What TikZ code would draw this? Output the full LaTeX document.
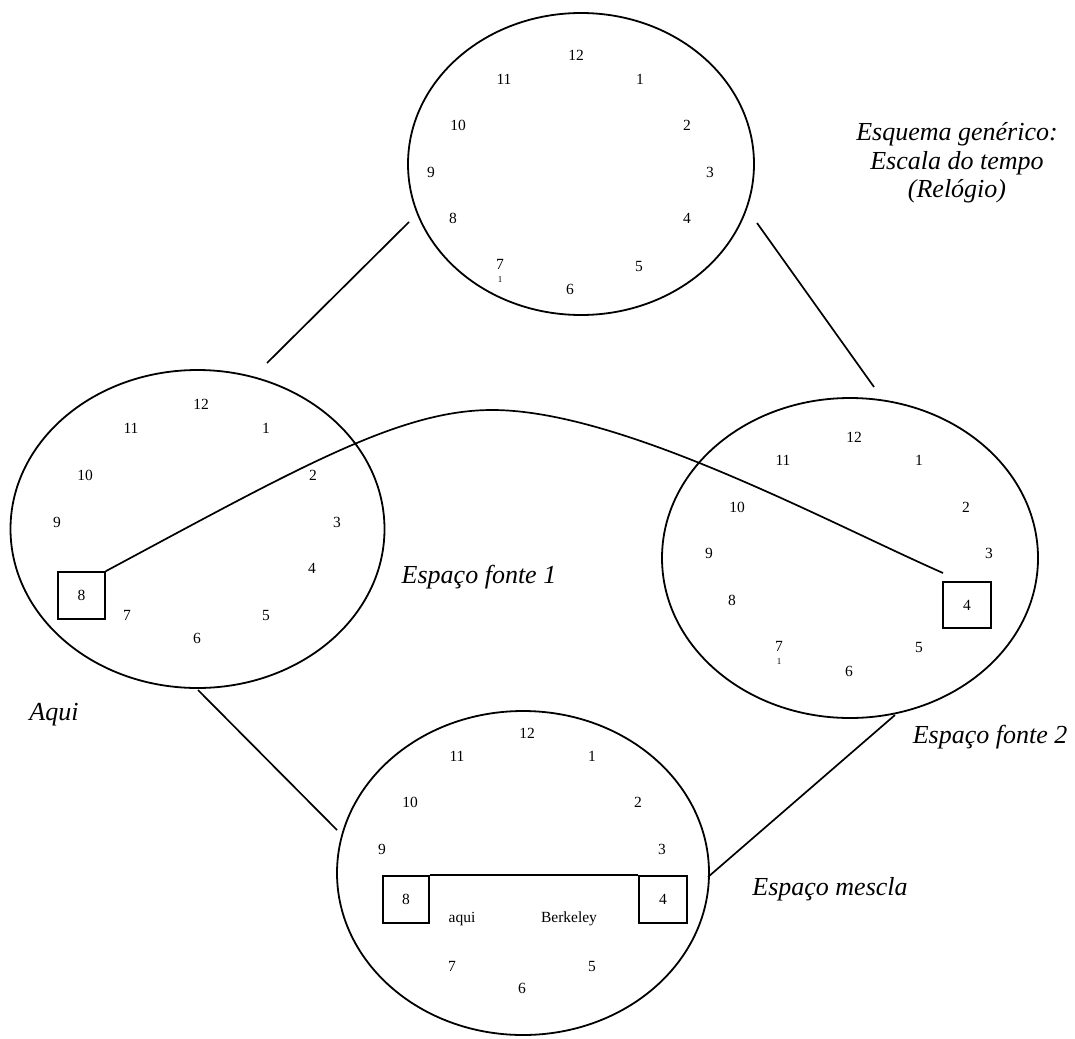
\documentclass[tikz,border=0pt]{standalone}
\usepackage{fontspec}
\setmainfont{Liberation Serif}
\usetikzlibrary{shapes.geometric}
\begin{document}
\begin{tikzpicture}[x=1pt,y=-1pt,
  space/.style={draw, ellipse, line width=1.8pt, inner sep=0pt},
  num/.style={inner sep=0pt, font=\fontsize{15.5}{18}\selectfont},
  tick/.style={inner sep=0pt, font=\fontsize{9}{10}\selectfont},
  hbox/.style={draw, line width=1.7pt, inner sep=0pt, font=\fontsize{15.5}{18}\selectfont},
  link/.style={line width=1.7pt},
  lab/.style={inner sep=0pt, font=\fontsize{26}{28.5}\selectfont\itshape}]
\useasboundingbox (0,0) rectangle (1075,1038);
% spaces
\node[space, minimum width=346pt, minimum height=302pt] (top) at (581,164) {};
\node[space, minimum width=374pt, minimum height=318pt] (left) at (197.5,529) {};
\node[space, minimum width=376pt, minimum height=320pt] (right) at (850,558) {};
\node[space, minimum width=372pt, minimum height=324pt] (blend) at (523,873) {};
% top clock
\node[num] (t12) at (576,55) {12};
\node[num] (t11) at (504,79) {11};
\node[num] (t1) at (640,79) {1};
\node[num] (t10) at (458,125) {10};
\node[num] (t2) at (687,125) {2};
\node[num] (t9) at (431,172) {9};
\node[num] (t3) at (710,172) {3};
\node[num] (t8) at (453,218) {8};
\node[num] (t4) at (687,218) {4};
\node[num] (t7) at (500,264) {7};
\node[tick] (tt) at (500,280) {1};
\node[num] (t5) at (639,266) {5};
\node[num] (t6) at (570,289) {6};
% left clock
\node[num] (l12) at (201,404) {12};
\node[num] (l11) at (131,428) {11};
\node[num] (l1) at (266,428) {1};
\node[num] (l10) at (85,475) {10};
\node[num] (l2) at (313,475) {2};
\node[num] (l9) at (57,522) {9};
\node[num] (l3) at (337,522) {3};
\node[num] (l4) at (312,568) {4};
\node[hbox, minimum width=47pt, minimum height=47pt] (l8) at (81.5,595.5) {8};
\node[num] (l7) at (127,615) {7};
\node[num] (l5) at (266,615) {5};
\node[num] (l6) at (197,638) {6};
% right clock
\node[num] (r12) at (854,437) {12};
\node[num] (r11) at (783,460) {11};
\node[num] (r1) at (919,460) {1};
\node[num] (r10) at (737,507) {10};
\node[num] (r2) at (966,507) {2};
\node[num] (r9) at (709,553) {9};
\node[num] (r3) at (989,553) {3};
\node[num] (r8) at (732,600) {8};
\node[hbox, minimum width=48pt, minimum height=46pt] (r4) at (967,605) {4};
\node[num] (r7) at (779,646) {7};
\node[tick] (rt) at (779,662) {1};
\node[num] (r5) at (919,647) {5};
\node[num] (r6) at (849,671) {6};
% blend clock
\node[num] (b12) at (527,733) {12};
\node[num] (b11) at (457,756) {11};
\node[num] (b1) at (592,756) {1};
\node[num] (b10) at (410,802) {10};
\node[num] (b2) at (638,802) {2};
\node[num] (b9) at (382,849) {9};
\node[num] (b3) at (662,849) {3};
\node[hbox, minimum width=46pt, minimum height=47pt] (b8) at (406,899.5) {8};
\node[hbox, minimum width=48pt, minimum height=47pt] (b4) at (663,899.5) {4};
\node[num] (baqui) at (462,919) {aqui};
\node[num] (bberk) at (569,919) {Berkeley};
\node[num] (b7) at (452,966) {7};
\node[num] (b5) at (592,966) {5};
\node[num] (b6) at (522,988) {6};
% labels
\node[lab, align=center] (generic) at (957,163) {Esquema genérico:\\Escala do tempo\\(Relógio)};
\node[lab] (src1) at (479,577) {Espaço fonte 1};
\node[lab] (aqui) at (54,715) {Aqui};
\node[lab] (src2) at (990,737) {Espaço fonte 2};
\node[lab] (mix) at (830,889) {Espaço mescla};
% connector ends
\coordinate (tlA) at (409,222);
\coordinate (tlB) at (267,363);
\coordinate (trA) at (757,223);
\coordinate (trB) at (874,387);
\coordinate (lbA) at (198,690);
\coordinate (lbB) at (337,830);
\coordinate (rbA) at (895,715);
\coordinate (rbB) at (708,877);
\coordinate (peak) at (492,410);
\coordinate (r4end) at (943,573);
% connectors
\draw[link] (tlA) -- (tlB);
\draw[link] (trA) -- (trB);
\draw[link] (lbA) -- (lbB);
\draw[link] (rbA) -- (rbB);
\draw[link] (l8.north east) .. controls (300,467) and (400,410) .. (peak)
  .. controls (620,410) and (823,520) .. (r4end);
\draw[link] (b8.north east) -- (b4.north west);
\end{tikzpicture}
\end{document}
